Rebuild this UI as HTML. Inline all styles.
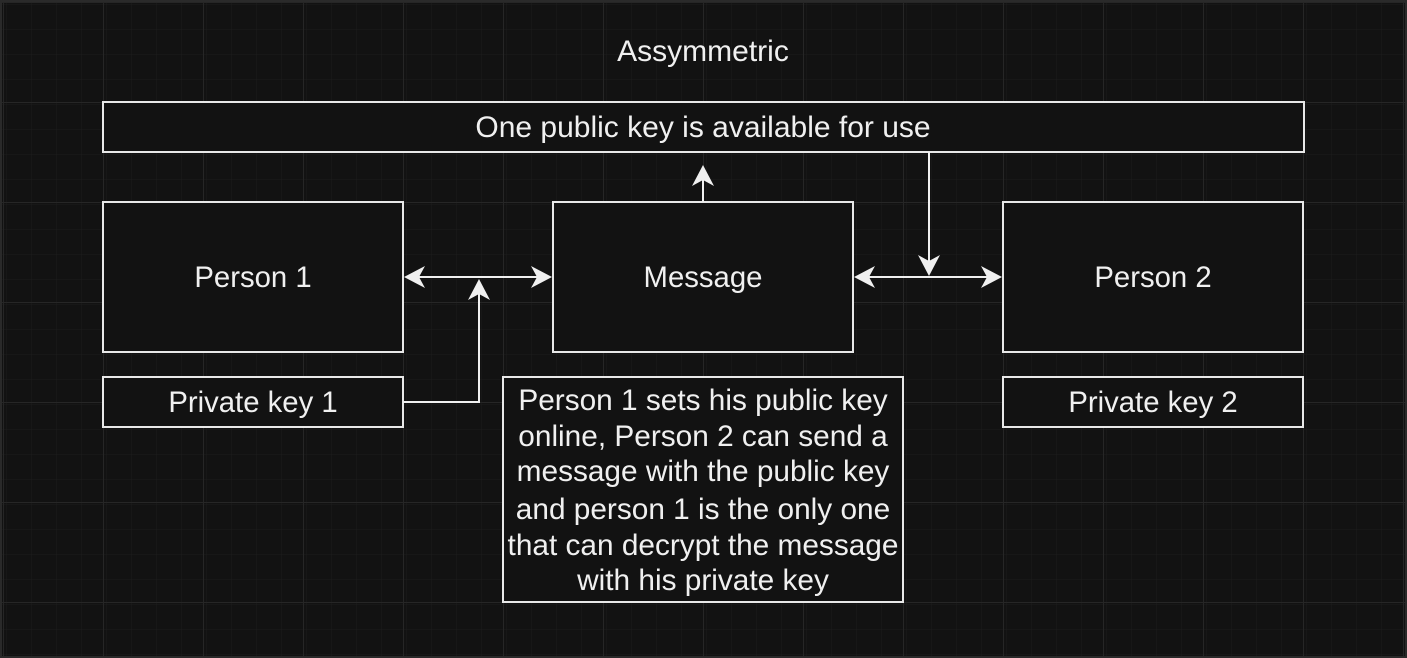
<!DOCTYPE html>
<html><head><meta charset="utf-8"><style>
html,body{margin:0;padding:0;background:#121212;}
svg{display:block;}
text{font-family:"Liberation Sans",Arial,sans-serif;fill:#f0f0f0;text-anchor:middle;}
</style></head><body>
<svg width="1407" height="658" viewBox="0 0 1407 658" xmlns="http://www.w3.org/2000/svg">
<defs>
<pattern id="minor" x="3" y="2" width="25" height="25" patternUnits="userSpaceOnUse">
<path d="M0 0H25M0 0V25" stroke="#1c1c1c" stroke-width="1" fill="none"/>
</pattern>
<pattern id="major" x="3" y="2" width="100" height="100" patternUnits="userSpaceOnUse">
<rect width="100" height="100" fill="url(#minor)"/>
<path d="M0 0.5H100M0.5 0V100" stroke="#262626" stroke-width="1" fill="none"/>
</pattern>
</defs>
<rect width="1407" height="658" fill="#121212"/>
<rect width="1407" height="658" fill="url(#major)"/>
<rect x="1" y="1" width="1405" height="656" fill="none" stroke="#2a2a2a" stroke-width="2"/>
<g fill="#121212" stroke="#e8e8e8" stroke-width="2">
<rect x="103" y="102" width="1201" height="50"/>
<rect x="103" y="202" width="300" height="150"/>
<rect x="553" y="202" width="300" height="150"/>
<rect x="1003" y="202" width="300" height="150"/>
<rect x="103" y="377" width="300" height="50"/>
<rect x="503" y="377" width="400" height="225"/>
<rect x="1003" y="377" width="300" height="50"/>
</g>
<g stroke="#f0f0f0" stroke-width="2" fill="none">
<path d="M415 277H541"/>
<path d="M403 402H479V291"/>
<path d="M703 202V178"/>
<path d="M929 152V264"/>
<path d="M865 277H991"/>
</g>
<g fill="#f0f0f0" stroke="none">
<path d="M404 277L425 266L419 277L425 288Z"/>
<path d="M552 277L531 266L537 277L531 288Z"/>
<path d="M479 279L468 300L479 294L490 300Z"/>
<path d="M703 165L692 186L703 180L714 186Z"/>
<path d="M929 276L918 255L929 261L940 255Z"/>
<path d="M854 277L875 266L869 277L875 288Z"/>
<path d="M1002 277L981 266L987 277L981 288Z"/>
</g>
<text x="703" y="61" font-size="30">Assymmetric</text>
<text x="703" y="137" font-size="30">One public key is available for use</text>
<text x="253" y="287" font-size="29.3">Person 1</text>
<text x="703" y="287" font-size="29.3">Message</text>
<text x="1153" y="287" font-size="29.3">Person 2</text>
<text x="253" y="412" font-size="29.3">Private key 1</text>
<text x="1153" y="412" font-size="29.3">Private key 2</text>
<g font-size="29.8">
<text x="703" y="410">Person 1 sets his public key</text>
<text x="703" y="446">online, Person 2 can send a</text>
<text x="703" y="481">message with the public key</text>
<text x="703" y="519">and person 1 is the only one</text>
<text x="703" y="555">that can decrypt the message</text>
<text x="703" y="590">with his private key</text>
</g>
</svg>
</body></html>
